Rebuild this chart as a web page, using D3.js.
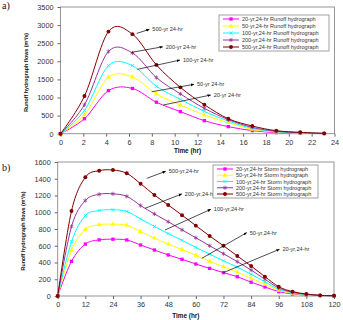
<!DOCTYPE html>
<html><head><meta charset="utf-8">
<script src="https://cdn.jsdelivr.net/npm/d3@7"></script>
<style>
html,body{margin:0;padding:0;background:#fff;}
svg{display:block;font-family:Arial,"Liberation Sans",sans-serif;}
</style></head>
<body><svg id="c" width="343" height="320"></svg>
<script>
// ---------- DATA ----------
const timeA = [0, 2.1, 4.2, 6.3, 8.4, 10.5, 12.6, 14.7, 16.8, 18.9, 21, 23.1];
const runoff20  = [0, 414, 1190, 1250, 870, 610, 360, 195, 85, 30, 10, 3];
const runoff50  = [0, 520, 1557, 1565, 1096, 792, 516, 304, 120, 45, 15, 5];
const runoff100 = [0, 640, 1880, 1880, 1310, 950, 615, 350, 150, 55, 20, 6];
const runoff200 = [0, 800, 2270, 2230, 1550, 1100, 700, 390, 175, 68, 27, 8];
const runoff500 = [0, 1040, 2820, 2750, 1900, 1280, 800, 414, 212, 83, 39, 10];

const timeB = [0, 6, 12, 18, 24, 30, 36, 42, 48, 54, 60, 66, 72, 78, 84, 90, 96, 102, 108, 114, 120];
const storm20  = [0, 414, 620, 670, 678, 669, 609, 549, 490, 438, 382, 330, 279, 230, 165, 108, 52, 25, 12, 5, 2];
const storm50  = [0, 545, 795, 850, 858, 845, 770, 690, 621, 555, 486, 415, 348, 285, 210, 140, 68, 32, 14, 6, 2];
const storm100 = [0, 650, 960, 1020, 1030, 1010, 920, 830, 745, 665, 580, 500, 420, 345, 260, 170, 80, 38, 17, 6, 2];
const storm200 = [0, 830, 1140, 1214, 1220, 1190, 1080, 980, 887, 790, 695, 600, 505, 410, 310, 200, 95, 45, 20, 7, 3];
const storm500 = [0, 1015, 1417, 1496, 1504, 1465, 1341, 1206, 1087, 965, 840, 716, 600, 478, 358, 231, 111, 52, 24, 8, 4];

const ticksAX = [0, 2, 4, 6, 8, 10, 12, 14, 16, 18, 20, 22, 24];
const ticksAY = [0, 500, 1000, 1500, 2000, 2500, 3000, 3500];
const ticksBX = [0, 12, 24, 36, 48, 60, 72, 84, 96, 108, 120];
const ticksBY = [0, 200, 400, 600, 800, 1000, 1200, 1400, 1600];

const legendA = ["20-yr,24-hr Runoff hydrograph", "50-yr,24-hr Runoff hydrograph", "100-yr,24-hr Runoff hydrograph", "200-yr,24-hr Runoff hydrograph", "500-yr,24-hr Runoff hydrograph"];
const legendB = ["20-yr,24-hr Storm hydrograph", "50-yr,24-hr Storm hydrograph", "100-yr,24-hr Storm hydrograph", "200-yr,24-hr Storm hydrograph", "500-yr,24-hr Storm hydrograph"];

// annotation arrows in data coordinates: [fromT, fromV, toT, toV, label]
const notesA = [
  [6.67, 2771, 7.78, 2881, "500-yr 24-hr"],
  [6.23, 2247, 8.95, 2401, "200-yr 24-hr"],
  [6.73, 1777, 10.46, 2034, "100-yr 24-hr"],
  [7.99, 1159, 11.69, 1363, "50-yr 24-hr"],
  [9.0, 792, 13.15, 1068, "20-yr 24-hr"]
];
const notesB = [
  [38.7, 1405, 46.9, 1489, "500-yr,24-hr"],
  [37.9, 1047, 53.9, 1218, "200-yr,24-hr"],
  [46.6, 788, 66.5, 1035, "100-yr,24-hr"],
  [62.6, 450, 82.1, 756, "50-yr,24-hr"],
  [71.9, 278, 96.3, 558, "20-yr,24-hr"]
];

// ---------- STYLE ----------
const colors = ["#ff00ff", "#ffff00", "#00ffff", "#993399", "#800000"];
const symbols = [d3.symbolSquare, d3.symbolTriangle, d3.symbolX, d3.symbolAsterisk, d3.symbolCircle];
const symSize = [11, 10, 8, 12, 12];
const symFilled = [true, true, false, false, true];

const svg = d3.select("#c");
svg.append("defs").append("marker")
  .attr("id", "arr").attr("viewBox", "0 0 10 10").attr("refX", 9).attr("refY", 5)
  .attr("markerWidth", 5).attr("markerHeight", 5).attr("orient", "auto")
  .append("path").attr("d", "M0,1 L10,5 L0,9 Z").attr("fill", "#000");

function panel(opts) {
  const {x, y, ticksX, ticksY, times, series, legend, notes, legendBox, label, labelY, titleGap} = opts;
  const g = svg.append("g");
  const [x0, x1] = x.range(), [y0, y1] = y.range();
  g.append("rect").attr("x", x0).attr("y", y1).attr("width", x1 - x0).attr("height", y0 - y1)
    .attr("fill", "none").attr("stroke", "#8a8a8a").attr("stroke-width", 0.9);
  const fmt = d3.format("d");
  const ax = g.append("g").attr("transform", `translate(0,${y0})`)
    .call(d3.axisBottom(x).tickValues(ticksX).tickFormat(fmt).tickSize(3).tickSizeOuter(0).tickPadding(3));
  const ay = g.append("g").attr("transform", `translate(${x0},0)`)
    .call(d3.axisLeft(y).tickValues(ticksY).tickFormat(fmt).tickSize(3).tickSizeOuter(0).tickPadding(4));
  [ax, ay].forEach(a => {
    a.select(".domain").remove();
    a.selectAll("line").attr("stroke", "#666");
    a.selectAll("text").attr("font-size", 7.3).attr("fill", "#333").attr("font-family", "Arial, Liberation Sans, sans-serif");
  });
  const line = d3.line().curve(d3.curveCardinal.tension(0));
  series.forEach((vals, i) => {
    const pts = times.map((t, k) => [x(t), y(vals[k])]);
    g.append("path").attr("d", line(pts)).attr("fill", "none")
      .attr("stroke", colors[i]).attr("stroke-width", 1);
  });
  series.forEach((vals, i) => {
    const sym = d3.symbol().type(symbols[i]).size(symSize[i]);
    g.selectAll(null).data(times.map((t, k) => [x(t), y(vals[k])])).join("path")
      .attr("d", sym).attr("transform", d => `translate(${d[0]},${d[1]})`)
      .attr("fill", symFilled[i] ? colors[i] : "none")
      .attr("stroke", colors[i]).attr("stroke-width", symFilled[i] ? 0 : 0.8);
  });
  notes.forEach(n => {
    g.append("line").attr("x1", x(n[0])).attr("y1", y(n[1])).attr("x2", x(n[2])).attr("y2", y(n[3]))
      .attr("stroke", "#000").attr("stroke-width", 0.7).attr("marker-end", "url(#arr)");
    g.append("text").attr("x", x(n[2]) + 3).attr("y", y(n[3]) + 2)
      .attr("font-size", 5.6).attr("fill", "#333").text(n[4]);
  });
  const [lx, ly, lw, lh] = legendBox;
  g.append("rect").attr("x", lx).attr("y", ly).attr("width", lw).attr("height", lh)
    .attr("fill", "#fff").attr("stroke", "#8a8a8a").attr("stroke-width", 0.8);
  const rowH = (lh - 8) / 4;
  legend.forEach((txt, i) => {
    const ry = ly + 4 + i * rowH;
    g.append("line").attr("x1", lx + 4).attr("x2", lx + 20).attr("y1", ry).attr("y2", ry)
      .attr("stroke", colors[i]).attr("stroke-width", 1);
    g.append("path").attr("d", d3.symbol().type(symbols[i]).size(symSize[i]))
      .attr("transform", `translate(${lx + 12},${ry})`)
      .attr("fill", symFilled[i] ? colors[i] : "none")
      .attr("stroke", colors[i]).attr("stroke-width", symFilled[i] ? 0 : 0.8);
    g.append("text").attr("x", lx + 23).attr("y", ry + 2).attr("font-size", 5.5)
      .attr("fill", "#333").text(txt);
  });
  g.append("text").attr("transform", `translate(${x0 - 33},${(y0 + y1) / 2 + 2}) rotate(-90)`)
    .attr("text-anchor", "middle").attr("font-size", 5.3).attr("font-weight", "bold").attr("fill", "#111")
    .text("Runoff hydrograph flows (m\u00b3/s)");
  g.append("text").attr("x", (x0 + x1) / 2 - 10).attr("y", y0 + titleGap).attr("text-anchor", "middle")
    .attr("font-size", 6.4).attr("font-weight", "bold").attr("fill", "#111").text("Time (hr)");
  g.append("text").attr("x", 2).attr("y", labelY).attr("font-size", 10)
    .attr("font-family", "Liberation Serif, Times New Roman, serif").attr("fill", "#111").text(label);
}

panel({
  x: d3.scaleLinear().domain([0, 24]).range([60.5, 334.5]),
  y: d3.scaleLinear().domain([0, 3500]).range([133.7, 7]),
  ticksX: ticksAX, ticksY: ticksAY, times: timeA,
  series: [runoff20, runoff50, runoff100, runoff200, runoff500],
  legend: legendA, notes: notesA, legendBox: [219, 15, 110, 36], label: "a)", labelY: 9, titleGap: 19
});
panel({
  x: d3.scaleLinear().domain([0, 120]).range([57.7, 334]),
  y: d3.scaleLinear().domain([0, 1600]).range([296, 162]),
  ticksX: ticksBX, ticksY: ticksBY, times: timeB,
  series: [storm20, storm50, storm100, storm200, storm500],
  legend: legendB, notes: notesB, legendBox: [213, 165, 105, 33], label: "b)", labelY: 171, titleGap: 22
});
</script></body></html>
